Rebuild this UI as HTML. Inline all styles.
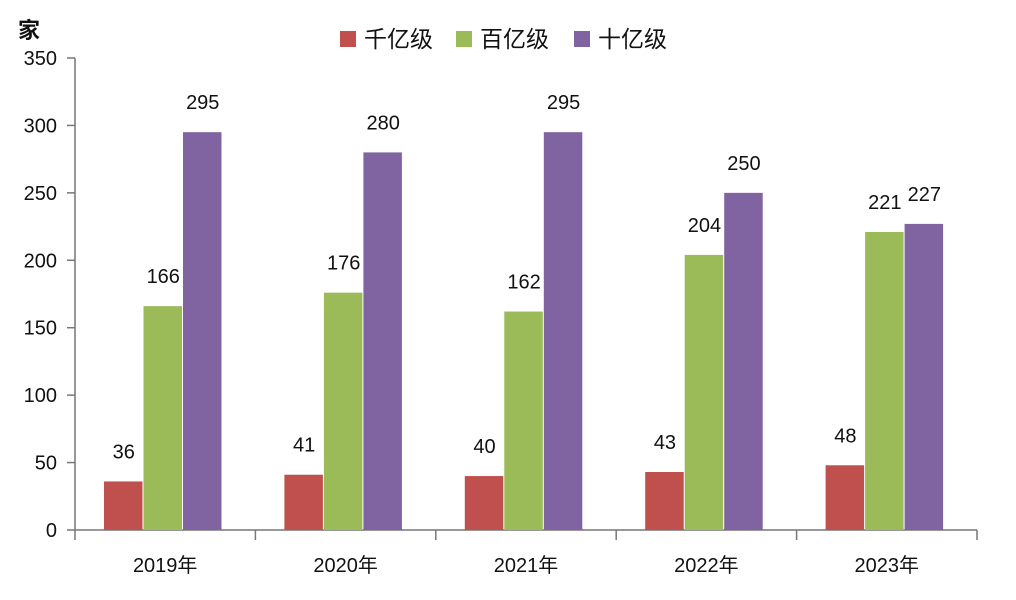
<!DOCTYPE html>
<html><head><meta charset="utf-8"><style>
body{margin:0;background:#fff;}
svg{display:block;font-family:"Liberation Sans","Noto Sans CJK SC",sans-serif;}
</style></head><body>
<svg id="chart" width="1016" height="600">
<text x="18" y="38" font-size="22" font-weight="bold" fill="#111">家</text>
<g>
<rect x="340" y="31" width="16" height="16" fill="#c0504d"/>
<text x="364" y="47" font-size="23" fill="#111">千亿级</text>
<rect x="456" y="31" width="16" height="16" fill="#9bbb59"/>
<text x="480" y="47" font-size="23" fill="#111">百亿级</text>
<rect x="574" y="31" width="16" height="16" fill="#8064a2"/>
<text x="598" y="47" font-size="23" fill="#111">十亿级</text>
</g>
<g id="plot"></g>
</svg>
<script>
const categories=["2019年","2020年","2021年","2022年","2023年"];
const qianyi=[36,41,40,43,48];
const baiyi=[166,176,162,204,221];
const shiyi=[295,280,295,250,227];
const yTicks=[0,50,100,150,200,250,300,350];
const ns="http://www.w3.org/2000/svg";
const g=document.getElementById('plot');
const x0=75,x1=977,y0=530,yTop=58,yMax=350;
const cw=(x1-x0)/categories.length;
function yS(v){return y0-(v/yMax)*(y0-yTop);}
function xC(i){return x0+i*cw;}
function mk(t,a){const e=document.createElementNS(ns,t);for(const k in a)e.setAttribute(k,a[k]);g.appendChild(e);return e;}
let e;
e=mk('line',{x1:x0,y1:yTop,x2:x0,y2:y0,stroke:'#777','stroke-width':1.5});


e=mk('line',{x1:x0,y1:y0,x2:x1,y2:y0,stroke:'#777','stroke-width':1.5});


yTicks.forEach(v=>{
  const y=yS(v);
  e=mk('line',{x1:x0-8,y1:y,x2:x0,y2:y,stroke:'#777','stroke-width':1.5});
  
  
  e=mk('text',{x:57,y:y+7,'font-size':20,'text-anchor':'end',fill:'#111'});
  e.textContent=v;
  
  
});
for(let i=0;i<=categories.length;i++){
  e=mk('line',{x1:xC(i),y1:y0,x2:xC(i),y2:y0+10,stroke:'#777','stroke-width':1.5});
  
  
}
const series=[[qianyi,'#c0504d','qianyi'],[baiyi,'#9bbb59','baiyi'],[shiyi,'#8064a2','shiyi']];
const bw=39.5;
categories.forEach((c,i)=>{
  e=mk('text',{x:xC(i)+cw/2,y:572,'font-size':20,'text-anchor':'middle',fill:'#111'});
  e.textContent=c;
  
  
  series.forEach((s,j)=>{
    const v=s[0][i];
    const bx=xC(i)+29+j*bw;
    e=mk('rect',{x:bx,y:yS(v),width:bw-1,height:y0-yS(v),fill:s[1]});
    
    
    e=mk('text',{x:bx+bw/2,y:yS(v)-23,'font-size':20,'text-anchor':'middle',fill:'#111'});
    e.textContent=v;
    
    
  });
});
</script>
</body></html>
